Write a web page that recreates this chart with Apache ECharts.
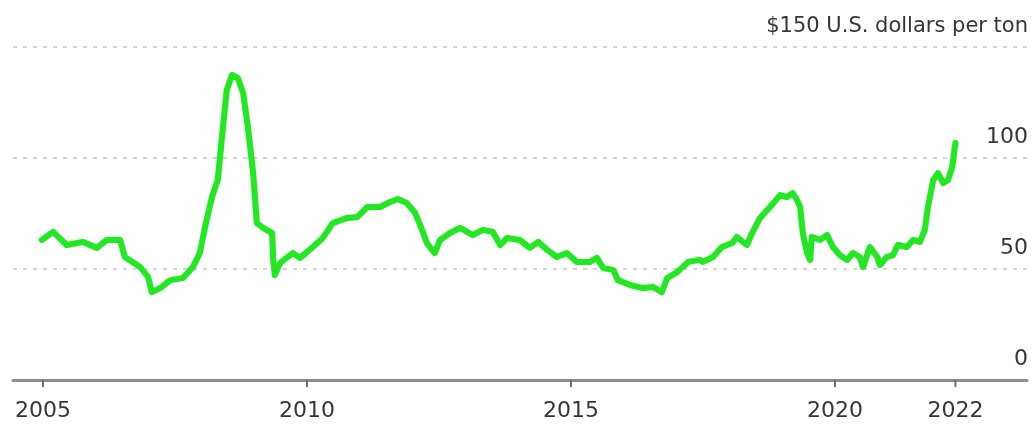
<!DOCTYPE html>
<html>
<head>
<meta charset="utf-8">
<style>
  html, body { margin: 0; padding: 0; background: #ffffff; }
  #chart { width: 1033px; height: 425px; }
</style>
<script src="https://cdn.jsdelivr.net/npm/echarts@6/dist/echarts.min.js"></script>
</head>
<body>
<div id="chart"></div>
<script>
// Coal price, U.S. dollars per ton (decimal year, price)
const dates = [
  2004.98, 2005.19, 2005.45, 2005.76, 2006.02, 2006.21, 2006.46, 2006.55, 2006.84, 2006.99,
  2007.06, 2007.22, 2007.41, 2007.65, 2007.84, 2007.97, 2008.07, 2008.20, 2008.31, 2008.39,
  2008.48, 2008.58, 2008.69, 2008.79, 2008.88, 2008.98, 2009.05, 2009.17, 2009.34, 2009.36,
  2009.39, 2009.49, 2009.73, 2009.87, 2010.11, 2010.30, 2010.49, 2010.76, 2010.95, 2011.14,
  2011.38, 2011.57, 2011.72, 2011.89, 2012.05, 2012.18, 2012.27, 2012.42, 2012.52, 2012.71,
  2012.90, 2013.14, 2013.33, 2013.52, 2013.66, 2013.79, 2014.03, 2014.22, 2014.38, 2014.55,
  2014.73, 2014.92, 2015.11, 2015.36, 2015.49, 2015.61, 2015.80, 2015.89, 2016.12, 2016.36,
  2016.55, 2016.72, 2016.82, 2017.01, 2017.22, 2017.44, 2017.50, 2017.69, 2017.86, 2018.05,
  2018.14, 2018.33, 2018.43, 2018.58, 2018.77, 2018.96, 2019.09, 2019.20, 2019.28, 2019.34,
  2019.39, 2019.47, 2019.53, 2019.56, 2019.72, 2019.85, 2019.96, 2020.09, 2020.23, 2020.34,
  2020.47, 2020.53, 2020.66, 2020.80, 2020.85, 2020.98, 2021.10, 2021.19, 2021.36, 2021.48,
  2021.61, 2021.70, 2021.76, 2021.86, 2021.95, 2022.05, 2022.14, 2022.22, 2022.28
];
const prices = [
  63.1, 66.7, 60.8, 62.2, 59.5, 63.1, 63.1, 55.4, 50.9, 46.4,
  39.6, 41.4, 45.0, 45.9, 50.9, 57.2, 68.9, 82.4, 90.1, 109.5,
  130.6, 137.4, 136.0, 129.3, 114.0, 93.2, 70.7, 68.5, 66.2, 54.1,
  47.3, 52.7, 57.2, 55.0, 59.9, 64.0, 70.7, 73.0, 73.4, 77.9,
  77.9, 80.2, 81.5, 79.7, 75.2, 67.6, 61.7, 57.2, 63.1, 66.2,
  68.5, 65.3, 67.6, 66.7, 60.8, 64.0, 63.1, 59.5, 62.2, 58.6,
  55.4, 57.2, 53.2, 53.2, 55.0, 50.5, 49.5, 45.0, 42.8, 41.4,
  41.9, 39.6, 45.9, 48.6, 53.2, 54.1, 53.2, 55.4, 59.9, 61.7,
  64.4, 60.8, 66.2, 73.0, 77.9, 83.3, 82.4, 84.2, 81.1, 77.9,
  66.2, 57.2, 54.1, 64.4, 63.1, 65.3, 59.9, 56.3, 54.1, 57.2,
  55.4, 50.9, 59.9, 55.4, 51.8, 55.4, 56.3, 60.8, 59.9, 63.1,
  62.2, 67.6, 77.9, 90.1, 93.2, 88.7, 90.1, 95.9, 106.8
];

// Axis ticks: the last tick marks the latest observation
const yearTicks = [2005, 2010, 2015, 2020];
const yearLabels = ['2005', '2010', '2015', '2020', '2022'];
const priceTicks = [0, 50, 100, 150];
const unitLabel = '$150 U.S. dollars per ton';

const lastDate = dates[dates.length - 1];
const xTickValues = yearTicks.concat([lastDate]);
const seriesData = dates.map((d, i) => [d, prices[i]]);

const textColor = '#363636';
const fontFamily = '"DejaVu Sans", "Liberation Sans", sans-serif';

const chart = echarts.init(document.getElementById('chart'), null, { renderer: 'canvas' });

chart.setOption({
  animation: false,
  backgroundColor: '#ffffff',
  grid: { left: 13, right: 6, top: 47, bottom: 45, containLabel: false },
  xAxis: {
    type: 'value',
    min: 2004.432,
    max: 2023.636,
    axisLine: { show: true, lineStyle: { color: '#8c8c8c', width: 3 } },
    axisTick: { show: false },
    axisLabel: {
      customValues: xTickValues,
      margin: 20,
      color: textColor,
      fontSize: 22,
      fontFamily: fontFamily,
      formatter: function (v) {
        const i = xTickValues.indexOf(v);
        return i >= 0 ? yearLabels[i] : '';
      }
    },
    splitLine: { show: false }
  },
  yAxis: {
    type: 'value',
    position: 'right',
    min: 0,
    max: 150,
    interval: 50,
    axisLine: { show: false },
    axisTick: { show: false },
    axisLabel: {
      inside: false,
      margin: 1,
      align: 'right',
      verticalAlign: 'bottom',
      padding: [0, 0, 10, 0],
      color: textColor,
      fontSize: 22,
      fontFamily: fontFamily,
      formatter: function (v) {
        return v === priceTicks[priceTicks.length - 1] ? '{u|' + unitLabel + '}' : String(v);
      },
      rich: {
        u: { fontSize: 21, color: textColor, fontFamily: fontFamily }
      }
    },
    splitLine: {
      show: true,
      lineStyle: { color: '#d4d4d4', width: 2, type: [4, 6] }
    }
  },
  series: [{
    type: 'line',
    data: seriesData,
    showSymbol: false,
    smooth: false,
    lineStyle: {
      color: '#2ae22a',
      width: 6,
      join: 'round',
      cap: 'round',
      shadowColor: 'rgba(60, 230, 60, 0.35)',
      shadowBlur: 3
    },
    z: 3
  }]
});

// Year tick marks below the time axis, placed through the axis scale
const tickGraphics = xTickValues.map(function (v) {
  const p = chart.convertToPixel({ gridIndex: 0 }, [v, 0]);
  return {
    type: 'line',
    shape: { x1: p[0], y1: p[1], x2: p[0], y2: p[1] + 7 },
    style: { stroke: '#6e6e6e', lineWidth: 2 },
    z: 5
  };
});
chart.setOption({ graphic: tickGraphics });
</script>
</body>
</html>
